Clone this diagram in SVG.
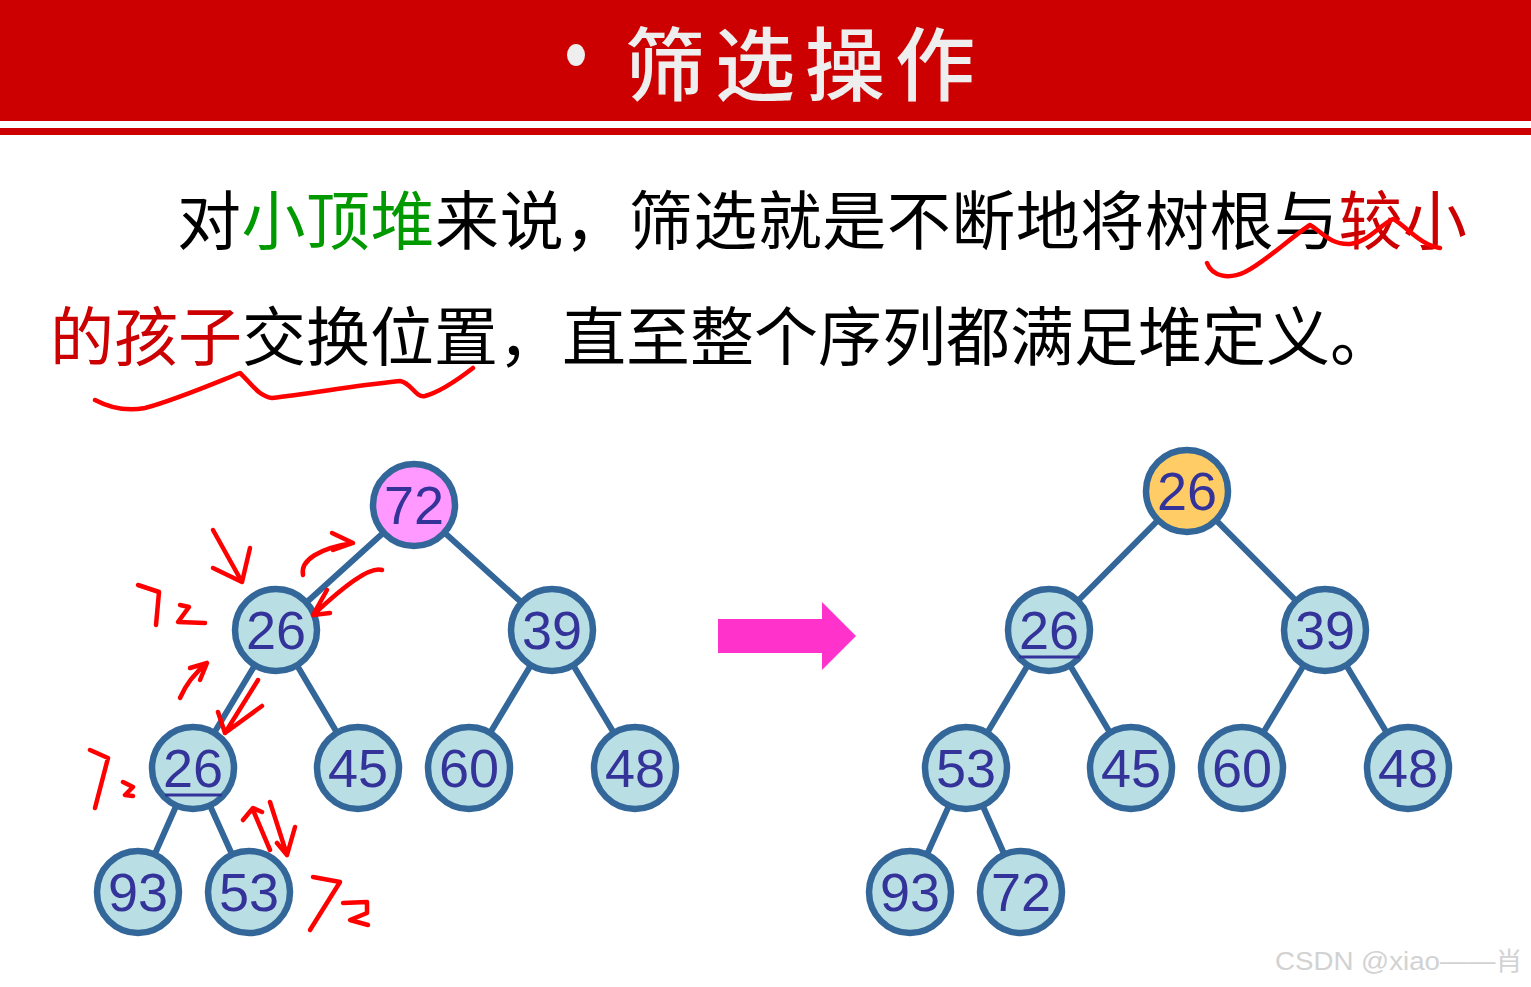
<svg xmlns="http://www.w3.org/2000/svg" width="1531" height="987" viewBox="0 0 1531 987">
<style>
.edge{stroke:#336699;stroke-width:6;stroke-linecap:round;fill:none}
.node circle{fill:#B9DFE4;stroke:#336699;stroke-width:6.5}
.node text{font-family:"Liberation Sans",Arial,sans-serif;font-size:54px;fill:#333399;text-anchor:middle}
.ul{stroke:#333399;stroke-width:3}
.ink{stroke:#FF0000;stroke-width:4.5;fill:none;stroke-linecap:round;stroke-linejoin:round}
.body{font-family:"Noto Sans CJK SC",sans-serif;font-size:64px;fill:#000}
</style>
<rect x="0" y="0" width="1531" height="987" fill="#FFFFFF"/>
<!-- header -->
<g id="header">
<rect x="0" y="0" width="1531" height="121" fill="#CC0000"/>
<rect x="0" y="128" width="1531" height="7" fill="#CC0000"/>
<ellipse cx="576" cy="55" rx="9" ry="11" fill="#EEEEEE"/>
<text x="625" y="94" font-family="'Noto Sans CJK SC',sans-serif" font-size="80" font-weight="500" fill="#EEEEEE" textLength="350" lengthAdjust="spacing">筛选操作</text>
</g>
<!-- body text -->
<g id="text">
<text class="body" x="177" y="244" textLength="1290" lengthAdjust="spacing">对<tspan fill="#009900">小顶堆</tspan>来说，筛选就是不断地将树根与<tspan fill="#CC0000">较小</tspan></text>
<text class="body" x="50" y="360" textLength="1344" lengthAdjust="spacing"><tspan fill="#CC0000">的孩子</tspan>交换位置，直至整个序列都满足堆定义。</text>
</g>
<!-- connectors -->
<g id="connectors">
<line class="edge" x1="414" y1="505" x2="276" y2="630"/>
<line class="edge" x1="414" y1="505" x2="552" y2="630"/>
<line class="edge" x1="276" y1="630" x2="193" y2="768"/>
<line class="edge" x1="276" y1="630" x2="358" y2="768"/>
<line class="edge" x1="552" y1="630" x2="469" y2="768"/>
<line class="edge" x1="552" y1="630" x2="635" y2="768"/>
<line class="edge" x1="193" y1="768" x2="138" y2="892"/>
<line class="edge" x1="193" y1="768" x2="249" y2="892"/>
<line class="edge" x1="1187" y1="491" x2="1049" y2="630"/>
<line class="edge" x1="1187" y1="491" x2="1325" y2="630"/>
<line class="edge" x1="1049" y1="630" x2="966" y2="768"/>
<line class="edge" x1="1049" y1="630" x2="1131" y2="768"/>
<line class="edge" x1="1325" y1="630" x2="1242" y2="768"/>
<line class="edge" x1="1325" y1="630" x2="1408" y2="768"/>
<line class="edge" x1="966" y1="768" x2="910" y2="892"/>
<line class="edge" x1="966" y1="768" x2="1021" y2="892"/>
</g>
<!-- left tree -->
<g id="L72" class="node"><circle cx="414" cy="505" r="41" style="fill:#FF99FF"/><text x="414" y="524">72</text></g>
<g id="L26a" class="node"><circle cx="276" cy="630" r="41"/><text x="276" y="649">26</text></g>
<g id="L39" class="node"><circle cx="552" cy="630" r="41"/><text x="552" y="649">39</text></g>
<g id="L26b" class="node"><circle cx="193" cy="768" r="41"/><text x="193" y="787">26</text><line class="ul" x1="165" y1="795" x2="222" y2="795"/></g>
<g id="L45" class="node"><circle cx="358" cy="768" r="41"/><text x="358" y="787">45</text></g>
<g id="L60" class="node"><circle cx="469" cy="768" r="41"/><text x="469" y="787">60</text></g>
<g id="L48" class="node"><circle cx="635" cy="768" r="41"/><text x="635" y="787">48</text></g>
<g id="L93" class="node"><circle cx="138" cy="892" r="41"/><text x="138" y="911">93</text></g>
<g id="L53" class="node"><circle cx="249" cy="892" r="41"/><text x="249" y="911">53</text></g>
<!-- right tree -->
<g id="R26" class="node"><circle cx="1187" cy="491" r="41" style="fill:#FFCC66"/><text x="1187" y="510">26</text></g>
<g id="R26b" class="node"><circle cx="1049" cy="630" r="41"/><text x="1049" y="649">26</text><line class="ul" x1="1019" y1="657" x2="1080" y2="657"/></g>
<g id="R39" class="node"><circle cx="1325" cy="630" r="41"/><text x="1325" y="649">39</text></g>
<g id="R53" class="node"><circle cx="966" cy="768" r="41"/><text x="966" y="787">53</text></g>
<g id="R45" class="node"><circle cx="1131" cy="768" r="41"/><text x="1131" y="787">45</text></g>
<g id="R60" class="node"><circle cx="1242" cy="768" r="41"/><text x="1242" y="787">60</text></g>
<g id="R48" class="node"><circle cx="1408" cy="768" r="41"/><text x="1408" y="787">48</text></g>
<g id="R93" class="node"><circle cx="910" cy="892" r="41"/><text x="910" y="911">93</text></g>
<g id="R72" class="node"><circle cx="1021" cy="892" r="41"/><text x="1021" y="911">72</text></g>
<!-- big arrow -->
<g id="bigArrow">
<polygon points="718,619 822,619 822,602 856,636 822,670 822,653 718,653" fill="#FF33CC"/>
</g>
<!-- handwriting annotations -->
<g id="annotations">
<path class="ink" d="M1207,263 C1212,276 1228,280 1245,272 C1265,262 1290,238 1310,225 C1322,232 1330,245 1350,244 C1368,242 1380,225 1393,219 C1405,225 1420,245 1440,248"/>
<path class="ink" d="M95,400 C110,408 128,411 145,408 C175,400 210,385 240,373 C250,382 258,396 272,398 C310,394 350,386 400,381 C412,383 415,398 425,396 C440,392 460,378 473,368"/>
<path class="ink" d="M213,530 L242,582 M213,568 L242,582 L250,548"/>
<path class="ink" d="M138,585 L159,592 L156,625 M180,605 L189,607 L178,622 L205,623"/>
<path class="ink" d="M303,575 C300,560 320,548 353,543 M332,533 L353,543 L333,550"/>
<path class="ink" d="M382,570 C370,566 345,585 313,615 M327,590 L313,615 L330,613"/>
<path class="ink" d="M180,698 C186,684 196,672 207,663 M190,668 L207,663 L200,680"/>
<path class="ink" d="M258,680 L225,733 M218,712 L225,733 L262,706"/>
<path class="ink" d="M90,750 L108,758 L95,808 M123,782 L133,787 L125,795 L133,796"/>
<path class="ink" d="M270,850 L253,810 M243,820 L253,808 L262,812 M270,802 L287,855 M277,843 L287,855 L295,827"/>
<path class="ink" d="M313,877 L340,882 L310,930 M343,903 L367,902 L367,913 L350,920 L368,925"/>
</g>
<!-- watermark -->
<text x="1275" y="970" font-family="'Liberation Sans','Noto Sans CJK SC',sans-serif" font-size="25" fill="#D2D2D2" textLength="248" lengthAdjust="spacingAndGlyphs">CSDN @xiao——肖</text>
</svg>
